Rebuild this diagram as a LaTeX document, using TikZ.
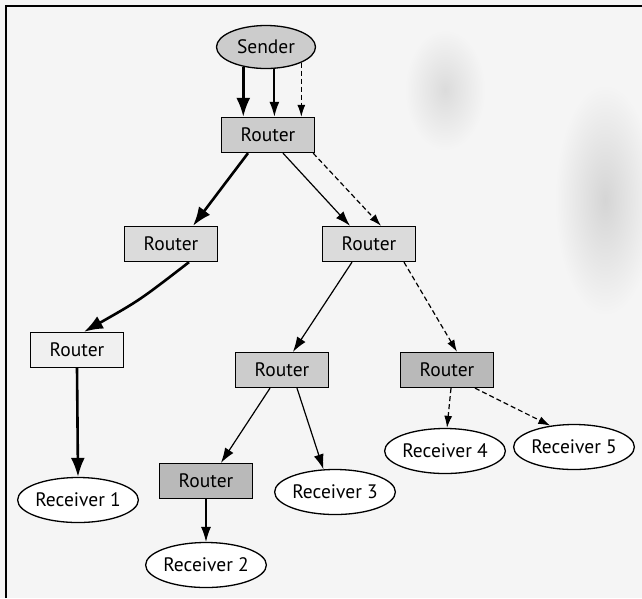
\documentclass[tikz,border=0pt]{standalone}
\usepackage{fontspec}
\setmainfont{PT Sans}
\usetikzlibrary{arrows.meta,shapes.geometric}
\begin{document}
\begin{tikzpicture}[x=1pt,y=-1pt,
  lbl/.style={font=\fontsize{19.5}{21}\selectfont},
  rbox/.style={lbl, draw=black, line width=1.3pt, minimum width=93pt, minimum height=35pt, inner sep=0pt},
  recv/.style={lbl, ellipse, draw=black, line width=1.3pt, fill=white, minimum width=109pt, minimum height=45pt, inner sep=0pt},
  fatarr/.style={line width=2.6pt, -{Latex[length=19pt,width=14pt]}},
  thinarr/.style={line width=1.2pt, -{Latex[length=15pt,width=10pt]}},
  dasharr/.style={line width=1.2pt, dash pattern=on 5pt off 3pt, -{Latex[length=12pt,width=8pt]}},
]
\useasboundingbox (0,0) rectangle (642,598);
\fill[gray!8] (0,0) rectangle (642,598);
\shade[inner color=gray!28, outer color=gray!8] (445,90) ellipse (40 and 60);
\shade[inner color=gray!33, outer color=gray!8] (605,200) ellipse (50 and 115);
\draw[line width=1.5pt] (6,598) -- (6,6) -- (642,6);

\node[lbl, ellipse, draw=black, line width=1.3pt, fill=gray!40, minimum width=99pt, minimum height=43pt, inner sep=0pt] (S) at (266,47) {Sender};
\node[rbox, fill=gray!40] (A) at (268,135) {Router};
\node[rbox, fill=gray!28] (B) at (171,244) {Router};
\node[rbox, fill=gray!28] (C) at (369,244) {Router};
\node[rbox, fill=gray!12] (D) at (77,350) {Router};
\node[rbox, fill=gray!40] (E) at (282,370) {Router};
\node[rbox, fill=gray!55] (F) at (447,370) {Router};
\node[rbox, fill=gray!55] (G) at (206,481) {Router};
\node[recv] (R1) at (78,500) {Receiver 1};
\node[recv] (R2) at (206,565) {Receiver 2};
\node[recv] (R3) at (335,492) {Receiver 3};
\node[recv] (R4) at (445,451) {Receiver 4};
\node[recv] (R5) at (574,447) {Receiver 5};

\draw[fatarr] (S.221) -- (S.221 |- A.north);
\draw[thinarr, line width=1.8pt] (S.291) -- (S.291 |- A.north);
\draw[dasharr] (S.336) -- (S.336 |- A.north);

\draw[fatarr] ([xshift=-20pt]A.south) -- ([xshift=22pt]B.north);
\draw[thinarr] ([xshift=15pt]A.south) -- ([xshift=-19pt]C.north);
\draw[dasharr] ([xshift=-2pt]A.south east) -- ([xshift=12pt]C.north);

\draw[fatarr] ([xshift=18pt]B.south) .. controls (140,300) .. ([xshift=7pt]D.north);
\draw[thinarr] ([xshift=-17pt]C.south) -- ([xshift=11pt]E.north);
\draw[dasharr] ([xshift=35pt]C.south) -- ([xshift=10pt]F.north);

\draw[fatarr] (D.south) -- (R1.north);
\draw[thinarr] ([xshift=-12pt]E.south) -- ([xshift=15pt]G.north);
\draw[thinarr] ([xshift=15pt]E.south) -- (R3.117);
\draw[thinarr] (G.south) -- (R2.north);
\draw[dasharr] ([xshift=4pt]F.south) -- ([xshift=2pt]R4.north);
\draw[dasharr] ([xshift=28pt]F.south) -- (R5.138);
\end{tikzpicture}
\end{document}
